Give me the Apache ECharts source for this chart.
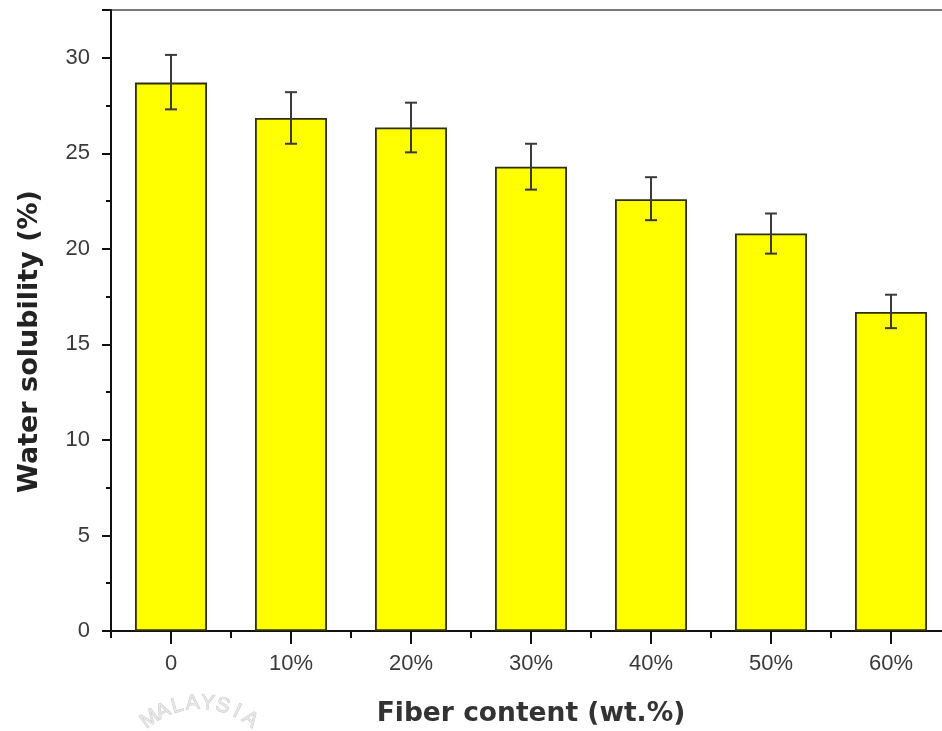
<!DOCTYPE html>
<html>
<head>
<meta charset="utf-8">
<script src="https://cdn.jsdelivr.net/npm/echarts@6/dist/echarts.min.js"></script>
<style>
  html, body { margin: 0; padding: 0; background: #fff; }
  #chart { width: 942px; height: 731px; }
</style>
</head>
<body>
<div id="chart"></div>
<script>
// fiber content categories and measured water solubility (%)
const categories = ["0", "10%", "20%", "30%", "40%", "50%", "60%"];
const solubility = [28.7, 26.85, 26.35, 24.3, 22.6, 20.8, 16.7];
const errLow = [27.3, 25.5, 25.05, 23.1, 21.5, 19.75, 15.85];
const errHigh = [30.15, 28.2, 27.65, 25.5, 23.75, 21.85, 17.6];
const yTicks = [0, 5, 10, 15, 20, 25, 30];

const chart = echarts.init(document.getElementById("chart"));
const font = "Liberation Sans, Arial, sans-serif";
const titleFont = "DejaVu Sans, sans-serif";

const errData = categories.map((c, i) => [i, errLow[i], errHigh[i]]);

// faint watermark letters along an arc (bottom left of the scan)
const wmLetters = "MALAYSIA".split("");
const watermark = wmLetters.map((ch, i) => {
  const a = (-36 + i * 10.3) * Math.PI / 180;
  return {
    type: "text",
    x: 200 + 85 * Math.sin(a),
    y: 788 - 85 * Math.cos(a),
    rotation: -a,
    style: {
      text: ch, fill: "#e6e6e6", stroke: "#c4c4c4", lineWidth: 0.8,
      font: "21px " + font, textAlign: "center", textVerticalAlign: "middle"
    },
    silent: true
  };
});

const option = {
  animation: false,
  grid: {
    left: 111, top: 10, width: 840, height: 621,
    outerBoundsMode: "none",
    containLabel: false,
    show: true, borderColor: "#7a7a7a", borderWidth: 2
  },
  graphic: watermark,
  xAxis: [
    {
      type: "category",
      data: categories,
      position: "bottom",
      axisLine: { lineStyle: { color: "#111", width: 2 } },
      axisTick: { show: true, alignWithLabel: true, length: 13, lineStyle: { color: "#111", width: 2 } },
      axisLabel: { fontFamily: font, fontSize: 22, color: "#3a3a3a", margin: 22 },
      name: "Fiber content (wt.%)",
      nameLocation: "middle",
      nameGap: 70,
      nameTextStyle: { fontFamily: titleFont, fontSize: 26.5, fontWeight: "bold", color: "#333" }
    },
    {
      type: "category",
      data: categories,
      position: "bottom",
      axisLine: { show: false },
      axisTick: { show: true, length: 7, lineStyle: { color: "#111", width: 2 } },
      axisLabel: { show: false }
    }
  ],
  yAxis: {
    type: "value",
    min: 0, max: 32.5, interval: 5,
    axisLine: { show: true, lineStyle: { color: "#111", width: 2 } },
    axisTick: { show: true, length: 9, lineStyle: { color: "#111", width: 2 } },
    minorTick: { show: true, splitNumber: 2, length: 5, lineStyle: { color: "#111", width: 2 } },
    splitLine: { show: false },
    axisLabel: {
      fontFamily: font, fontSize: 22, color: "#3a3a3a", margin: 21,
      showMaxLabel: false,
      formatter: v => yTicks.includes(v) ? String(v) : ""
    },
    name: "Water solubility (%)",
    nameLocation: "middle",
    nameGap: 68,
    nameTextStyle: {
      fontFamily: titleFont, fontSize: 27, fontWeight: "bold", color: "#222",
      padding: [0, 42, 0, 0]
    }
  },
  series: [
    {
      type: "bar",
      data: solubility,
      barWidth: 72,
      itemStyle: { color: "#ffff00", borderColor: "#2f2f14", borderWidth: 1.8 }
    },
    {
      type: "custom",
      data: errData,
      z: 5,
      renderItem: (params, api) => {
        const lo = api.coord([api.value(0), api.value(1)]);
        const hi = api.coord([api.value(0), api.value(2)]);
        const cap = 6;
        const style = { stroke: "#3a3a3a", lineWidth: 2 };
        return {
          type: "group",
          children: [
            { type: "line", shape: { x1: lo[0], y1: lo[1], x2: hi[0], y2: hi[1] }, style },
            { type: "line", shape: { x1: hi[0] - cap, y1: hi[1], x2: hi[0] + cap, y2: hi[1] }, style },
            { type: "line", shape: { x1: lo[0] - cap, y1: lo[1], x2: lo[0] + cap, y2: lo[1] }, style }
          ]
        };
      }
    }
  ]
};

chart.setOption(option);
</script>
</body>
</html>
